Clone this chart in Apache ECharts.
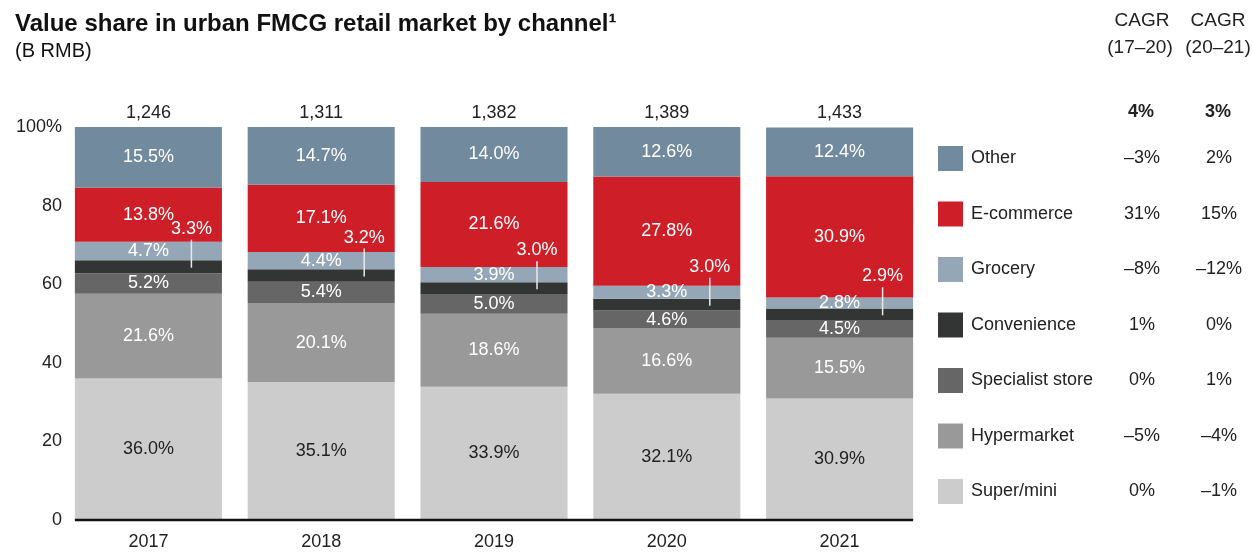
<!DOCTYPE html>
<html>
<head>
<meta charset="utf-8">
<script src="https://cdn.jsdelivr.net/npm/echarts@6/dist/echarts.min.js"></script>
<style>
  html, body { margin: 0; padding: 0; background: #fff; }
  #chart { width: 1253px; height: 552px; }
</style>
</head>
<body>
<div id="chart"></div>
<script>
// data
const years = ['2017', '2018', '2019', '2020', '2021']
const totals = [1246, 1311, 1382, 1389, 1433]
const superMini = [36.0, 35.1, 33.9, 32.1, 30.9]
const hypermarket = [21.6, 20.1, 18.6, 16.6, 15.5]
const specialist = [5.2, 5.4, 5.0, 4.6, 4.5]
const convenience = [3.3, 3.2, 3.0, 3.0, 2.9]
const grocery = [4.7, 4.4, 3.9, 3.3, 2.8]
const ecommerce = [13.8, 17.1, 21.6, 27.8, 30.9]
const other = [15.5, 14.7, 14.0, 12.6, 12.4]

const channels = ['Super/mini', 'Hypermarket', 'Specialist store', 'Convenience', 'Grocery', 'E-commerce', 'Other']
const cagr1720 = ['0%', '–5%', '0%', '1%', '–8%', '31%', '–3%']
const cagr2021 = ['–1%', '–4%', '1%', '0%', '–12%', '15%', '2%']
const totalCagr = ['4%', '3%']

const FONT = '"Liberation Sans", Arial, Helvetica, sans-serif'
const colors = ['#cccccc', '#999999', '#666666', '#333535', '#95a7b7', '#ce1f28', '#728a9d']
const seriesData = [superMini, hypermarket, specialist, convenience, grocery, ecommerce, other]
const GAP = 0.149 // share of the band left empty between bars

let myChart = echarts.init(document.getElementById('chart'))

const barSeries = channels.map((name, k) => {
  return {
    name: name,
    type: 'bar',
    stack: 'share',
    barCategoryGap: (GAP * 100) + '%',
    itemStyle: { color: colors[k] },
    label: {
      show: name !== 'Convenience', // convenience gets a callout instead
      position: 'inside',
      fontFamily: FONT,
      fontSize: 18,
      color: name === 'Super/mini' ? '#222' : '#fff',
      formatter: p => p.value.toFixed(1) + '%'
    },
    data: seriesData[k]
  }
})

// callout for the thin convenience slice: label above + white leader line
const convPoints = years.map((y, i) => {
  const base = superMini[i] + hypermarket[i] + specialist[i]
  return [i, base + convenience[i] / 2, convenience[i]]
})

const convCallout = {
  type: 'custom',
  name: 'conv-callout',
  silent: true,
  z: 10,
  renderItem: (params, api) => {
    const p = api.coord([api.value(0), api.value(1)])
    const x = p[0] + 43
    return {
      type: 'group',
      children: [
        {
          type: 'line',
          shape: { x1: x, y1: p[1] - 27, x2: x, y2: p[1] + 1 },
          style: { stroke: '#e8e8e8', lineWidth: 1.5 }
        },
        {
          type: 'text',
          x: x,
          y: p[1] - 38,
          style: {
            text: api.value(2).toFixed(1) + '%',
            fill: '#fff',
            fontSize: 18,
            fontFamily: FONT,
            align: 'center',
            verticalAlign: 'middle'
          }
        }
      ]
    }
  },
  data: convPoints
}

// baseline only spans the bars (first bar left edge -> last bar right edge)
const baseline = {
  type: 'custom',
  name: 'baseline',
  silent: true,
  z: 11,
  renderItem: (params, api) => {
    const a = api.coord([0, 0])
    const b = api.coord([years.length - 1, 0])
    const half = api.size([1, 0])[0] * (1 - GAP) / 2
    return {
      type: 'line',
      shape: { x1: a[0] - half, y1: a[1], x2: b[0] + half, y2: b[1] },
      style: { stroke: '#111', lineWidth: 2.5 }
    }
  },
  data: [[0, 0]]
}

const headerText = (txt, x, y, bold) => ({
  type: 'text',
  x: x,
  y: y,
  style: {
    text: txt,
    fill: '#222',
    fontSize: bold ? 18 : 19,
    fontWeight: bold ? 'bold' : 'normal',
    fontFamily: FONT,
    align: 'center',
    verticalAlign: 'middle'
  }
})

myChart.setOption({
  animation: false,
  textStyle: { fontFamily: FONT },
  title: {
    text: 'Value share in urban FMCG retail market by channel¹',
    subtext: '(B RMB)',
    left: 10,
    top: 7,
    itemGap: 5,
    textStyle: { fontSize: 24, fontWeight: 'bold', color: '#111', fontFamily: FONT },
    subtextStyle: { fontSize: 20, color: '#111', fontFamily: FONT }
  },
  grid: { left: 62, right: 327, top: 127, bottom: 32 },
  legend: {
    orient: 'vertical',
    left: 938,
    top: 146,
    padding: 0,
    icon: 'rect',
    itemWidth: 25,
    itemHeight: 25,
    itemGap: 30.5,
    selectedMode: false,
    data: channels.slice().reverse(),
    formatter: name => {
      const k = channels.indexOf(name)
      return '{n|' + name + '}{a|' + cagr1720[k] + '}{b|' + cagr2021[k] + '}'
    },
    textStyle: {
      fontSize: 18,
      color: '#222',
      fontFamily: FONT,
      rich: {
        n: { width: 136, fontSize: 18, color: '#222', fontFamily: FONT, padding: [0, 0, 0, 3] },
        a: { width: 70, align: 'center', fontSize: 18, color: '#222', fontFamily: FONT },
        b: { width: 84, align: 'center', fontSize: 18, color: '#222', fontFamily: FONT }
      }
    }
  },
  graphic: [
    headerText('CAGR', 1142, 21, false),
    headerText('(17–20)', 1140, 48, false),
    headerText('CAGR', 1218, 21, false),
    headerText('(20–21)', 1218, 48, false),
    headerText(totalCagr[0], 1141, 112, true),
    headerText(totalCagr[1], 1218, 112, true)
  ],
  xAxis: [
    {
      type: 'category',
      data: years,
      axisLine: { show: false },
      axisTick: { show: false },
      axisLabel: { fontSize: 18, color: '#222', margin: 13, fontFamily: FONT }
    },
    {
      type: 'category',
      position: 'top',
      data: totals.map(t => t.toLocaleString('en-US')),
      axisLine: { show: false },
      axisTick: { show: false },
      axisLabel: { fontSize: 18, color: '#222', margin: 5, fontFamily: FONT }
    }
  ],
  yAxis: {
    type: 'value',
    min: 0,
    max: 100,
    interval: 20,
    axisLine: { show: false },
    axisTick: { show: false },
    splitLine: { show: false },
    axisLabel: {
      fontSize: 18,
      color: '#222',
      margin: 0,
      fontFamily: FONT,
      formatter: v => (v === 100 ? '100%' : v)
    }
  },
  series: barSeries.concat([convCallout, baseline])
})
</script>
</body>
</html>
